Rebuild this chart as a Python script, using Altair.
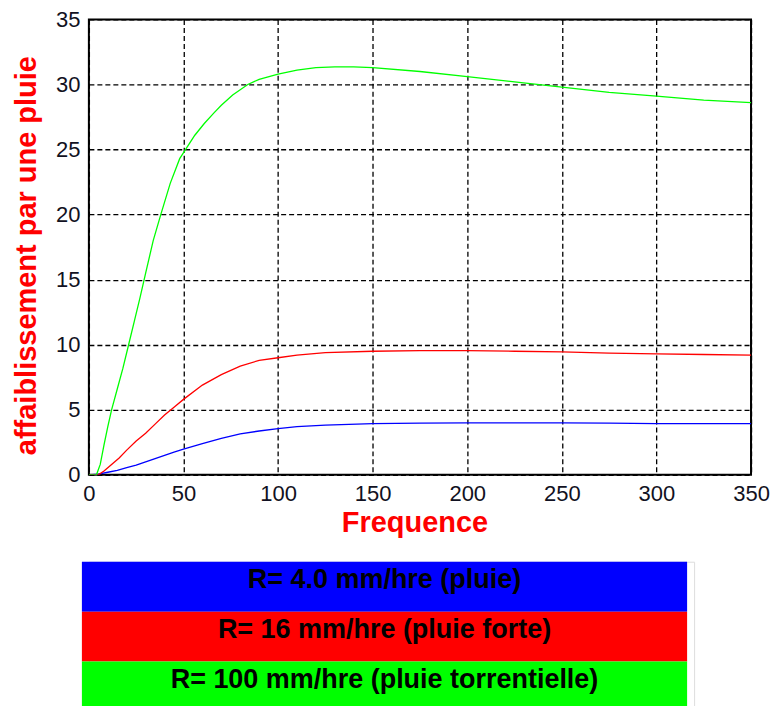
import altair as alt
import pandas as pd

# Series (frequency, attenuation)
freq_blue = [0, 5, 10, 15, 20, 25, 30, 35, 40, 45, 50, 60, 70, 80, 90, 100, 110, 125, 150, 175, 200, 225, 250, 275, 300, 325, 350]
val_blue = [0, 0.05, 0.2, 0.35, 0.55, 0.75, 1.0, 1.25, 1.5, 1.75, 1.97, 2.4, 2.8, 3.15, 3.37, 3.55, 3.7, 3.82, 3.93, 3.97, 4.0, 4.0, 4.0, 3.97, 3.93, 3.93, 3.93]

freq_red = [0, 5, 8, 12, 16, 20, 25, 30, 35, 40, 45, 50, 60, 70, 80, 90, 100, 110, 125, 150, 175, 200, 225, 250, 275, 300, 325, 350]
val_red = [0, 0, 0.3, 0.8, 1.3, 1.9, 2.6, 3.2, 3.9, 4.6, 5.2, 5.8, 6.9, 7.7, 8.35, 8.8, 9.0, 9.2, 9.4, 9.5, 9.55, 9.55, 9.5, 9.45, 9.35, 9.3, 9.25, 9.2]

freq_green = [0, 4, 6, 8, 10, 12, 15, 18, 21, 24, 27, 30, 34, 38, 43, 48, 52, 56, 61, 66, 70, 76, 84, 90, 100, 110, 120, 130, 140, 150, 175, 200, 225, 250, 275, 300, 325, 350]
val_green = [0, 0, 0.8, 2.3, 3.7, 5, 6.6, 8.2, 10, 11.8, 13.6, 15.5, 18, 20, 22.4, 24.3, 25.2, 26.1, 27, 27.8, 28.4, 29.2, 30, 30.4, 30.8, 31.1, 31.3, 31.35, 31.35, 31.3, 31.0, 30.6, 30.2, 29.8, 29.4, 29.1, 28.8, 28.6]

labels = ["R= 4.0 mm/hre (pluie)", "R= 16 mm/hre (pluie forte)", "R= 100 mm/hre (pluie torrentielle)"]
colors = ["#0000ff", "#ff0000", "#00ff00"]

x_ticks = [0, 50, 100, 150, 200, 250, 300, 350]
y_ticks = [0, 5, 10, 15, 20, 25, 30, 35]

x_title = "Frequence"
y_title = "affaiblissement par une  pluie"

rows = []
for lab, fs, vs in zip(labels, [freq_blue, freq_red, freq_green], [val_blue, val_red, val_green]):
    for f, v in zip(fs, vs):
        rows.append({"serie": lab, "f": f, "v": v})
df = pd.DataFrame(rows)

FONT = "Liberation Sans"

main = alt.Chart(df).mark_line(strokeWidth=1.3, clip=True).encode(
    x=alt.X("f:Q", title=x_title,
            scale=alt.Scale(domain=[0, 350], nice=False, zero=False),
            axis=alt.Axis(values=x_ticks, format="d", grid=True, gridColor="black",
                          gridDash=[5, 3], gridWidth=1.3, gridOpacity=1,
                          ticks=False, domain=False, labelFlush=False,
                          labelFont=FONT, labelFontSize=22, labelColor="#111122",
                          labelPadding=9,
                          titleFont=FONT, titleFontSize=29, titleFontWeight="bold",
                          titleColor="#ff0000", titlePadding=4, titleX=326)),
    y=alt.Y("v:Q", title=y_title,
            scale=alt.Scale(domain=[0, 35], nice=False),
            axis=alt.Axis(values=y_ticks, format="d", grid=True, gridColor="black",
                          gridDash=[5, 3], gridWidth=1.3, gridOpacity=1,
                          ticks=False, domain=False, labelFlush=False,
                          labelFont=FONT, labelFontSize=22, labelColor="#111122",
                          labelPadding=9,
                          titleFont=FONT, titleFontSize=29, titleFontWeight="bold",
                          titleColor="#ff0000", titlePadding=14, titleY=236)),
    color=alt.Color("serie:N", scale=alt.Scale(domain=labels, range=colors), legend=None),
    detail="serie:N",
).properties(width=663, height=456,
             view=alt.ViewBackground(stroke="black", strokeWidth=2))

leg_df = pd.DataFrame({"label": labels})

leg_base = alt.Chart(leg_df).encode(
    y=alt.Y("label:N", sort=labels, axis=None,
            scale=alt.Scale(domain=labels, paddingInner=0, paddingOuter=0)),
)
leg_rect = leg_base.mark_rect().encode(
    x=alt.value(-7), x2=alt.value(599),
    color=alt.Color("label:N", scale=alt.Scale(domain=labels, range=colors), legend=None),
)
leg_text = leg_base.mark_text(font=FONT, fontSize=27, fontWeight="bold", color="black",
                              align="center", baseline="middle", dy=-7).encode(
    x=alt.value(296), text="label:N",
)
legend = alt.layer(leg_rect, leg_text).properties(width=606, height=150)

chart = alt.vconcat(main, legend, spacing=87, bounds="flush").properties(
    padding={"left": 11, "top": 7, "right": 0, "bottom": 0}
).configure_view(strokeWidth=0).configure(background="white")

chart.save("out.html", embed_options={"renderer": "svg", "actions": False})
